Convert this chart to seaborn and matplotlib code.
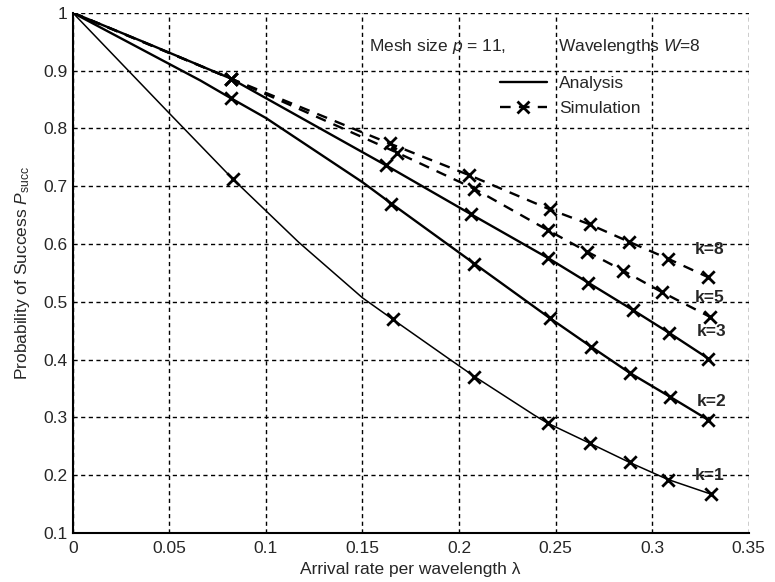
import matplotlib
matplotlib.use("Agg")
import matplotlib.pyplot as plt
import seaborn as sns
from matplotlib.lines import Line2D

# analysis curves
ana_k1_x = [0, 0.05, 0.083, 0.117, 0.150, 0.166, 0.195, 0.2075, 0.239, 0.246, 0.268, 0.2885, 0.308, 0.330]
ana_k1_y = [1.0, 0.826, 0.712, 0.603, 0.507, 0.469, 0.401, 0.372, 0.304, 0.290, 0.255, 0.222, 0.193, 0.168]
ana_k2_x = [0, 0.066, 0.082, 0.100, 0.150, 0.165, 0.208, 0.247, 0.2686, 0.2885, 0.3092, 0.330]
ana_k2_y = [1.0, 0.883, 0.852, 0.818, 0.707, 0.670, 0.566, 0.472, 0.422, 0.377, 0.336, 0.294]
ana_k3_x = [0, 0.040, 0.082, 0.162, 0.206, 0.246, 0.267, 0.290, 0.309, 0.330]
ana_k3_y = [1.0, 0.945, 0.886, 0.7365, 0.652, 0.576, 0.533, 0.486, 0.446, 0.400]

# simulation points
sim_k1_x = [0.083, 0.166, 0.2075, 0.246, 0.268, 0.2885, 0.308, 0.3305]
sim_k1_y = [0.712, 0.4695, 0.370, 0.291, 0.256, 0.223, 0.1915, 0.1685]
sim_k2_x = [0.082, 0.165, 0.208, 0.247, 0.2686, 0.2885, 0.3092, 0.3291]
sim_k2_y = [0.852, 0.670, 0.566, 0.472, 0.422, 0.377, 0.336, 0.295]
sim_k3_x = [0.082, 0.162, 0.206, 0.246, 0.267, 0.290, 0.309, 0.329]
sim_k3_y = [0.886, 0.7365, 0.652, 0.576, 0.533, 0.486, 0.446, 0.402]
sim_k5_x = [0, 0.082, 0.168, 0.2077, 0.246, 0.2665, 0.285, 0.305, 0.330]
sim_k5_y = [1.0, 0.886, 0.758, 0.696, 0.624, 0.5865, 0.554, 0.517, 0.474]
sim_k8_x = [0, 0.082, 0.164, 0.2054, 0.247, 0.2677, 0.288, 0.308, 0.3288]
sim_k8_y = [1.0, 0.886, 0.774, 0.719, 0.660, 0.634, 0.604, 0.575, 0.543]

k_labels = ["k=8", "k=5", "k=3", "k=2", "k=1"]
k_label_x = [0.3299, 0.3300, 0.3310, 0.3310, 0.3300]
k_label_y = [0.591, 0.508, 0.448, 0.327, 0.200]

sns.set_style("white")
plt.rcParams["font.family"] = ["Liberation Sans", "DejaVu Sans"]
plt.rcParams["mathtext.fontset"] = "custom"
plt.rcParams["mathtext.rm"] = "Liberation Sans"
plt.rcParams["mathtext.it"] = "Liberation Sans:italic"

fig = plt.figure(figsize=(7.75, 5.82), dpi=100)
ax = fig.add_axes([0.094, 0.084, 0.872, 0.894])

dash = (0, (4.5, 3.5))

# analysis (solid)
sns.lineplot(x=ana_k1_x, y=ana_k1_y, ax=ax, color="k", lw=1.1, sort=False, estimator=None)
sns.lineplot(x=ana_k2_x, y=ana_k2_y, ax=ax, color="k", lw=1.7, sort=False, estimator=None)
sns.lineplot(x=ana_k3_x, y=ana_k3_y, ax=ax, color="k", lw=1.7, sort=False, estimator=None)

# simulation (dashed), curves for k=5 and k=8
for sx, sy in [(sim_k5_x, sim_k5_y), (sim_k8_x, sim_k8_y)]:
    sns.lineplot(x=sx, y=sy, ax=ax, color="k", lw=1.7, linestyle=dash,
                 sort=False, estimator=None)

# simulation markers
for sx, sy in [(sim_k1_x, sim_k1_y), (sim_k2_x, sim_k2_y), (sim_k3_x, sim_k3_y),
               (sim_k5_x[1:], sim_k5_y[1:]), (sim_k8_x[1:], sim_k8_y[1:])]:
    sns.scatterplot(x=sx, y=sy, ax=ax, marker="x", color="k", s=80, linewidth=2.0, zorder=4)

for lab, lx, ly in zip(k_labels, k_label_x, k_label_y):
    ax.text(lx, ly, lab, fontsize=12.5, fontweight="bold", ha="center", va="center")

ax.set_xlim(0, 0.35)
ax.set_ylim(0.1, 1.0)
ax.set_xticks([0, 0.05, 0.1, 0.15, 0.2, 0.25, 0.3, 0.35])
ax.set_xticklabels(["0", "0.05", "0.1", "0.15", "0.2", "0.25", "0.3", "0.35"])
ax.set_yticks([0.1, 0.2, 0.3, 0.4, 0.5, 0.6, 0.7, 0.8, 0.9, 1.0])
ax.set_yticklabels(["0.1", "0.2", "0.3", "0.4", "0.5", "0.6", "0.7", "0.8", "0.9", "1"])
ax.tick_params(labelsize=12.5, direction="in", length=4, color="k")
ax.tick_params(axis="x", pad=6)
ax.tick_params(axis="y", pad=4)
ax.grid(True, color="k", linestyle=(0, (3, 2.5)), linewidth=1.0)
for side in ["top", "right"]:
    ax.spines[side].set_visible(False)
for side in ["left", "bottom"]:
    ax.spines[side].set_color("k")
    ax.spines[side].set_linewidth(1.5)

ax.set_xlabel("Arrival rate per wavelength \u03bb", fontsize=12.5, labelpad=4)
ax.set_ylabel(r"Probability of Success $P_{\mathrm{succ}}$", fontsize=12.5, labelpad=8)

ax.text(0.1533, 0.941, r"Mesh size $p$ = 11,", fontsize=12.5, va="center", ha="left")
ax.text(0.2515, 0.941, r"Wavelengths $W$=8", fontsize=12.5, va="center", ha="left")

handles = [
    Line2D([], [], color="k", lw=1.7),
    Line2D([], [], color="k", lw=1.7, linestyle=dash, marker="x",
           markersize=9, markeredgewidth=2.0),
]
ax.legend(handles, ["Analysis", "Simulation"], loc="upper left",
          bbox_to_anchor=(0.632, 0.878), frameon=False, fontsize=12.5,
          handlelength=2.7, handletextpad=0.7, borderpad=0, borderaxespad=0,
          labelspacing=0.55)

fig.savefig("out.png", dpi=100)
